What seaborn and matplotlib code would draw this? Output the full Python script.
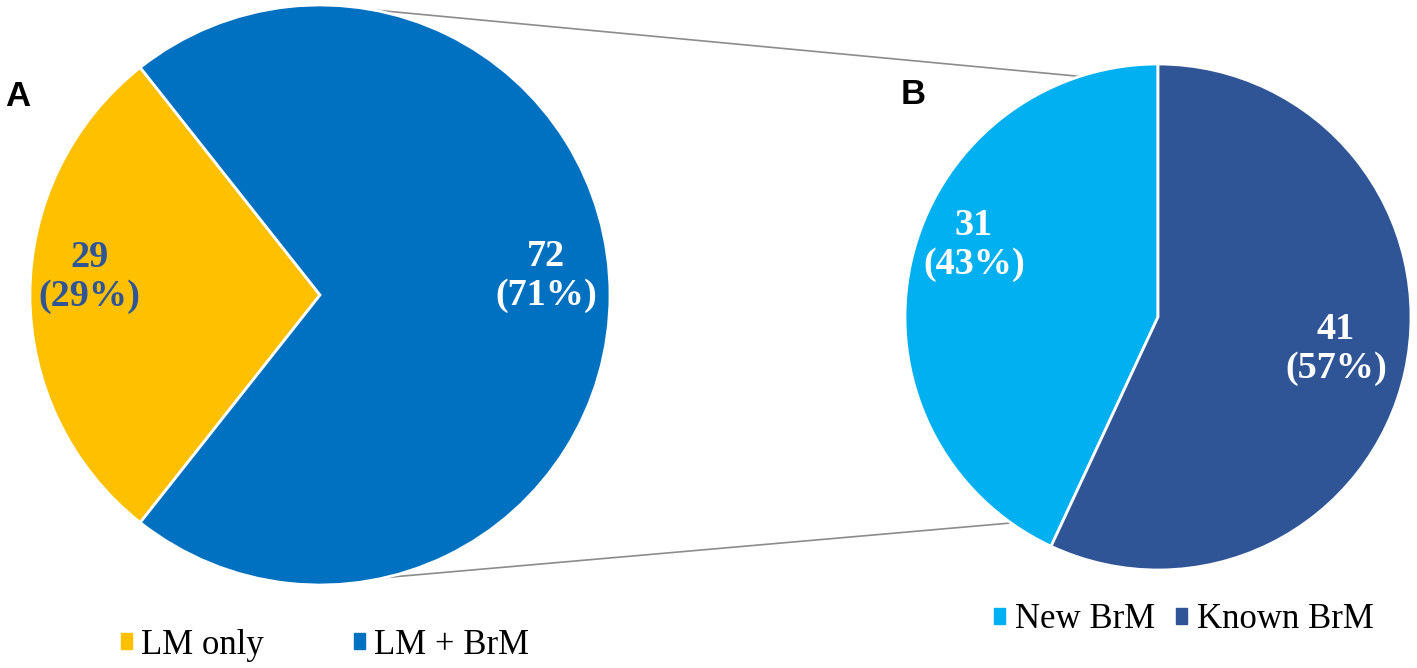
import numpy as np
import seaborn as sns
import matplotlib.pyplot as plt
from matplotlib.patches import Patch

# panel A: all leptomeningeal metastasis patients
a_labels = ['LM only', 'LM + BrM']
a_counts = [29, 72]
a_pcts = [29, 71]
a_colors = ['#FFC000', '#0070C0']
a_text_colors = ['#2F5597', 'white']

# panel B: breakdown of LM + BrM
b_labels = ['New BrM', 'Known BrM']
b_counts = [31, 41]
b_pcts = [43, 57]
b_colors = ['#00B0F0', '#2F5597']
b_text_colors = ['white', 'white']

sns.set_theme(style='white')
plt.rcParams['font.family'] = ['Liberation Serif', 'DejaVu Serif']
plt.rcParams['text.color'] = 'black'

W, H = 1417, 668
fig = plt.figure(figsize=(W / 100, H / 100), dpi=100)
ax = fig.add_axes([0, 0, 1, 1])

a_center, a_r = (320, H - 295), 290
b_center, b_r = (1158, H - 317), 253

wp = dict(edgecolor='white', linewidth=2)
# LM only wedge centred on the left side
a_start = 180 - 360 * a_counts[0] / sum(a_counts) / 2
ax.pie(a_counts, colors=a_colors, startangle=a_start, center=a_center,
       radius=a_r, wedgeprops=wp, frame=True)
ax.pie(b_counts, colors=b_colors, startangle=90, center=b_center,
       radius=b_r, wedgeprops=wp, frame=True)
ax.set_xlim(0, W)
ax.set_ylim(0, H)
ax.set_aspect('equal')
ax.axis('off')

# value labels
a_pos = [(89, H - 277), (546, H - 276)]
b_pos = [(974, H - 245), (1336, H - 349)]
for n, p, c, xy in zip(a_counts + b_counts, a_pcts + b_pcts,
                       a_text_colors + b_text_colors, a_pos + b_pos):
    ax.text(*xy, f'{n}\n({p}%)', ha='center', va='center', fontsize=27.5,
            fontweight='bold', color=c, linespacing=1.15)

# connector lines between the pies
def on_circle(center, r, deg):
    t = np.radians(deg)
    return center[0] + r * np.cos(t), center[1] + r * np.sin(t)

for da, db in [(79.5, 108), (-77, -125.5)]:
    p1 = on_circle(a_center, a_r, da)
    p2 = on_circle(b_center, b_r, db)
    ax.plot([p1[0], p2[0]], [p1[1], p2[1]], color='#8C8C8C', lw=1.2, zorder=0)

# panel letters
ax.text(5, H - 97, 'A', fontsize=25, fontweight='bold', va='center', ha='left',
        family=['Liberation Sans', 'DejaVu Sans'])
ax.text(901, H - 95, 'B', fontsize=25, fontweight='bold', va='center', ha='left',
        family=['Liberation Sans', 'DejaVu Sans'])

# legends
ha = [Patch(color=c, label=l) for c, l in zip(a_colors, a_labels)]
leg1 = ax.legend(handles=ha, loc='center', bbox_to_anchor=(325, H - 645),
                 bbox_transform=ax.transData, ncol=2, frameon=False, fontsize=25,
                 handlelength=0.32, handleheight=0.32, handletextpad=0.25,
                 columnspacing=2.6, borderpad=0)
ax.add_artist(leg1)
hb = [Patch(color=c, label=l) for c, l in zip(b_colors, b_labels)]
ax.legend(handles=hb, loc='center', bbox_to_anchor=(1184, H - 620),
          bbox_transform=ax.transData, ncol=2, frameon=False, fontsize=25,
          handlelength=0.3, handleheight=0.3, handletextpad=0.3,
          columnspacing=0.6, borderpad=0)

fig.savefig('out.png', dpi=100)
